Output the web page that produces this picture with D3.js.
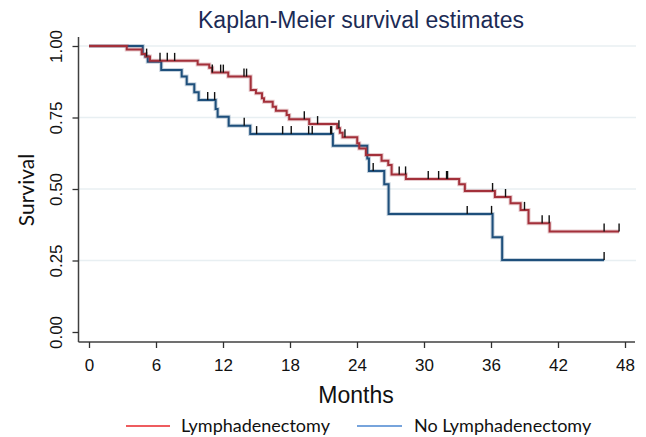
<!DOCTYPE html>
<html><head><meta charset="utf-8">
<script src="https://cdn.jsdelivr.net/npm/d3@7"></script>
<style>body{margin:0;background:#fff}svg{display:block}</style>
</head><body><svg id="c" width="646" height="437"></svg>
<script>
// Kaplan-Meier steps: [time, survival after event]
const lymphSteps = [[0,1],[3.38,0.988],[4.72,0.972],[5.08,0.963],[5.46,0.948],[9.73,0.935],[10.77,0.924],[11.04,0.907],[12.47,0.893],[14.48,0.846],[14.95,0.835],[15.49,0.817],[15.67,0.805],[16.45,0.788],[16.74,0.774],[17.70,0.759],[17.93,0.744],[19.72,0.727],[22.23,0.712],[22.47,0.697],[22.71,0.681],[24.02,0.660],[24.20,0.642],[24.80,0.619],[26.20,0.599],[26.80,0.584],[27.10,0.551],[28.38,0.535],[33.15,0.517],[33.66,0.493],[36.35,0.472],[37.75,0.450],[38.65,0.427],[39.36,0.380],[41.25,0.351]];
const lymphEnd = 47.47;
const lymphCensor = [5.16,6.36,7.01,7.67,11.04,11.79,12.03,13.88,14.11,19.28,20.47,22.38,22.92,27.78,28.35,30.38,31.31,32.02,32.11,36.14,37.3,39.0,40.58,41.21,46.13,47.47];

const noLymphSteps = [[0,1],[4.81,0.972],[5.04,0.963],[5.26,0.945],[6.47,0.916],[8.30,0.893],[8.75,0.866],[9.43,0.838],[9.82,0.811],[11.34,0.780],[11.52,0.753],[12.51,0.721],[14.44,0.692],[21.84,0.651],[24.92,0.607],[25.07,0.563],[26.44,0.517],[26.83,0.413],[36.14,0.331],[37.0,0.252]];
const noLymphEnd = 46.13;
const noLymphCensor = [10.63,11.25,13.9,15.01,17.34,18.11,19.67,19.99,21.64,21.73,25.45,33.87,36.05,46.13];

const xTicks = [0,6,12,18,24,30,36,42,48];
const yTicks = [0,0.25,0.5,0.75,1];
const seriesNames = ["Lymphadenectomy","No Lymphadenectomy"];

const ARIAL = "'Liberation Sans', Arial, sans-serif";
const CAL = "Lato, 'Open Sans', sans-serif";

const svg = d3.select("#c");
const x = d3.scaleLinear().domain([0,48]).range([89,625]);
const y = d3.scaleLinear().domain([0,1]).range([332,46]);

// gridlines
svg.append("g").selectAll("line").data(yTicks.filter(d=>d>0)).join("line")
  .attr("x1",79).attr("x2",636).attr("y1",d=>y(d)).attr("y2",d=>y(d))
  .attr("stroke","#e8eff2").attr("stroke-width",1.5);

// axes
const xAxis = d3.axisBottom(x).tickValues(xTicks).tickSize(6).tickPadding(11).tickFormat(d3.format("d"));
const gx = svg.append("g").attr("transform","translate(0,342)").call(xAxis);
gx.select(".domain").attr("d","M78.5,0H635").attr("stroke","#404040").attr("stroke-width",1.5);
gx.selectAll(".tick line").attr("stroke","#303030").attr("stroke-width",1.3);
gx.selectAll(".tick text").attr("font-family",ARIAL).attr("font-size",17).attr("fill","#111");

const yAxis = d3.axisLeft(y).tickValues(yTicks).tickSize(6).tickPadding(4).tickFormat(d3.format(".2f"));
const gy = svg.append("g").attr("transform","translate(78.5,0)").call(yAxis);
gy.select(".domain").attr("d","M0,37V342").attr("stroke","#404040").attr("stroke-width",1.5);
gy.selectAll(".tick line").attr("stroke","#303030").attr("stroke-width",1.3);
gy.selectAll(".tick text").attr("font-family",ARIAL).attr("font-size",17).attr("fill","#111")
  .attr("text-anchor","middle").attr("x",0).attr("dy",0)
  .attr("transform","translate(-17,0) rotate(-90)");

// step lines
function stepData(steps, end){
  const pts = steps.map(d=>({t:d[0],s:d[1]}));
  pts.push({t:end,s:steps[steps.length-1][1]});
  return pts;
}
function survAt(steps,t){
  let s=1; for(const d of steps){ if(d[0]<=t+1e-9) s=d[1]; } return s;
}
const line = d3.line().x(d=>x(d.t)).y(d=>y(d.s)).curve(d3.curveStepAfter);
const groups = [
  {steps:noLymphSteps,end:noLymphEnd,cens:noLymphCensor,color:"#1e4f7b"},
  {steps:lymphSteps,end:lymphEnd,cens:lymphCensor,color:"#a3303a"}
];
groups.forEach(g=>{
  svg.append("path").datum(stepData(g.steps,g.end)).attr("d",line)
    .attr("fill","none").attr("stroke",g.color).attr("stroke-opacity",0.25).attr("stroke-width",4);
  svg.append("path").datum(stepData(g.steps,g.end)).attr("d",line)
    .attr("fill","none").attr("stroke",g.color).attr("stroke-width",2);
  svg.append("g").selectAll("line").data(g.cens).join("line")
    .attr("x1",d=>x(d)).attr("x2",d=>x(d))
    .attr("y1",d=>y(survAt(g.steps,d))).attr("y2",d=>y(survAt(g.steps,d))-8)
    .attr("stroke","#111").attr("stroke-width",1.4);
});

// title & labels
svg.append("text").attr("x",361).attr("y",28).attr("text-anchor","middle")
  .attr("font-family",ARIAL).attr("font-size",23).attr("fill","#1c2b55")
  .text("Kaplan-Meier survival estimates");
svg.append("text").attr("x",356).attr("y",403).attr("text-anchor","middle")
  .attr("font-family",ARIAL).attr("font-size",23).attr("fill","#111")
  .text("Months");
svg.append("text").attr("transform","translate(34,190) rotate(-90)").attr("text-anchor","middle")
  .attr("font-family",CAL).attr("font-size",21).attr("fill","#111")
  .text("Survival");

// legend
const legend = [
  {name:seriesNames[0],color:"#e8262a",x1:126,x2:170,tx:181},
  {name:seriesNames[1],color:"#4a86d0",x1:357,x2:402,tx:414}
];
legend.forEach(l=>{
  svg.append("line").attr("x1",l.x1).attr("x2",l.x2).attr("y1",426).attr("y2",426)
    .attr("stroke",l.color).attr("stroke-width",1.5);
  svg.append("text").attr("x",l.tx).attr("y",432)
    .attr("font-family",CAL).attr("font-size",18).attr("fill","#111")
    .text(l.name);
});
</script></body></html>
